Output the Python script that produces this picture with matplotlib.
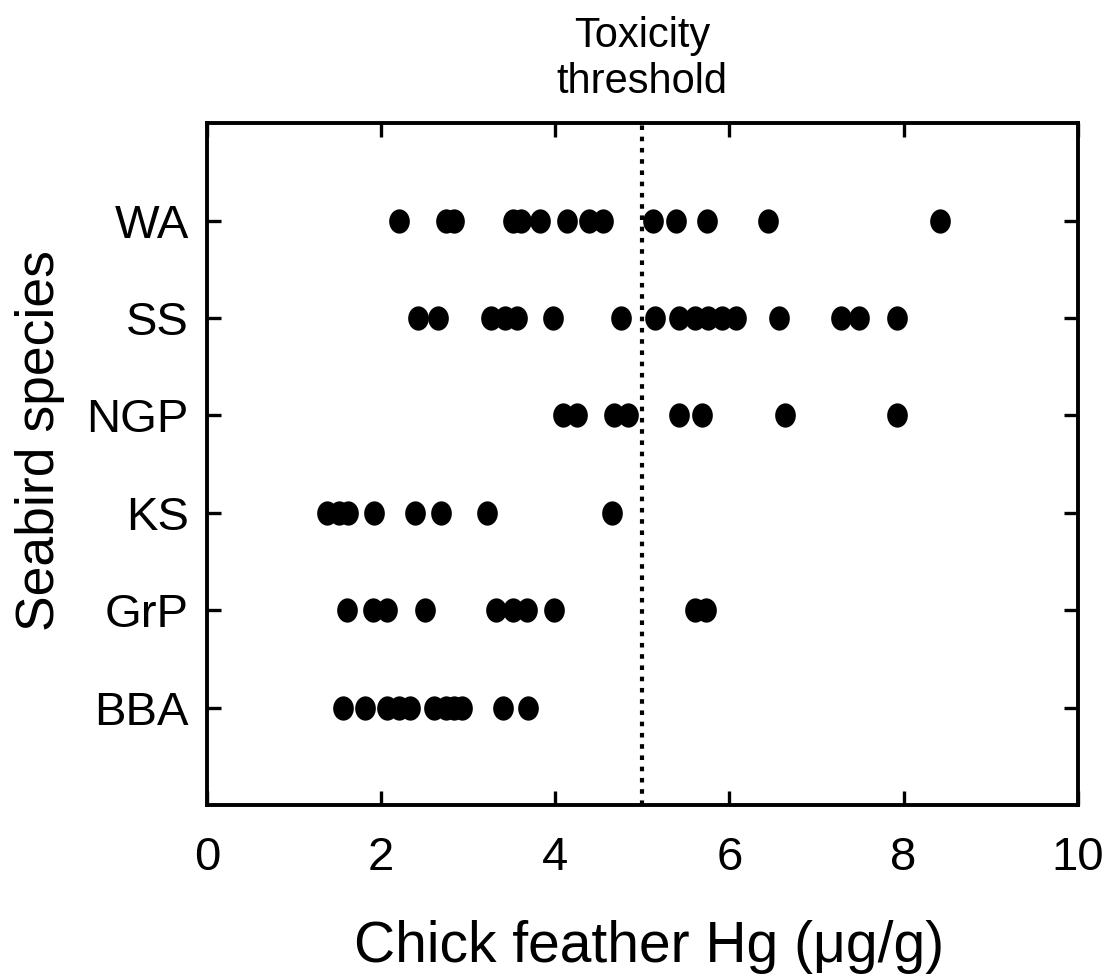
import numpy as np
import matplotlib
matplotlib.use("Agg")
import matplotlib.pyplot as plt
import matplotlib.transforms as mtransforms
from matplotlib.path import Path

plt.rcParams['font.family'] = ['Liberation Sans', 'DejaVu Sans']

# species from bottom to top
species = ['BBA', 'GrP', 'KS', 'NGP', 'SS', 'WA']

# chick feather Hg (ug/g)
hg_BBA = [1.56, 1.81, 2.07, 2.2, 2.33, 2.61, 2.74, 2.84, 2.93, 3.4, 3.69]
hg_GrP = [1.61, 1.91, 2.07, 2.5, 3.32, 3.51, 3.67, 3.98, 5.6, 5.73]
hg_KS = [1.38, 1.51, 1.62, 1.92, 2.39, 2.69, 3.22, 4.65]
hg_NGP = [4.09, 4.25, 4.67, 4.83, 5.42, 5.68, 6.64, 7.93]
hg_SS = [2.42, 2.65, 3.26, 3.42, 3.56, 3.97, 4.76, 5.15, 5.42, 5.6, 5.76,
         5.92, 6.08, 6.57, 7.28, 7.49, 7.92]
hg_WA = [2.2, 2.74, 2.84, 3.51, 3.61, 3.83, 4.14, 4.39, 4.55, 5.12, 5.39,
         5.74, 6.44, 8.42]

threshold = 5
x_ticks = [0, 2, 4, 6, 8, 10]

all_hg = [hg_BBA, hg_GrP, hg_KS, hg_NGP, hg_SS, hg_WA]

fig = plt.figure(figsize=(11.09, 9.74), dpi=100)
ax = fig.add_axes([0.1867, 0.1735, 0.785, 0.700])

# slightly tall dots like the original
circ = Path.unit_circle()
dot = Path(circ.vertices * np.array([0.85, 1.0]), circ.codes)

for i, vals in enumerate(all_hg):
    ax.plot(vals, [i + 1] * len(vals), linestyle='none', marker=dot,
            markersize=17.5, color='black', markeredgewidth=0)

ax.axvline(threshold, color='black', linewidth=3, linestyle=(0, (1.1, 1.6)))

ax.set_xlim(0, 10)
ax.set_ylim(0, 7)
ax.set_xticks(x_ticks)
ax.set_yticks(range(1, len(species) + 1))
ax.set_yticklabels(species)

for s in ax.spines.values():
    s.set_linewidth(2.8)
ax.tick_params(direction='in', length=10, width=2.4, top=True, right=True,
               labelsize=34)
ax.tick_params(axis='x', pad=22)
ax.tick_params(axis='y', pad=13)

fig.text(0.585, 0.012, 'Chick feather Hg (\u03bcg/g)', fontsize=41,
         ha='center', va='baseline')
fig.text(0.036, 0.548, 'Seabird species', fontsize=38.5, rotation=90,
         ha='center', va='center')

trans = mtransforms.blended_transform_factory(ax.transData, fig.transFigure)
ax.text(threshold, 1 - 47 / 974, 'Toxicity', transform=trans, fontsize=30,
        ha='center', va='baseline')
ax.text(threshold, 1 - 93 / 974, 'threshold', transform=trans, fontsize=30,
        ha='center', va='baseline')

fig.savefig('out.png', dpi=100)
